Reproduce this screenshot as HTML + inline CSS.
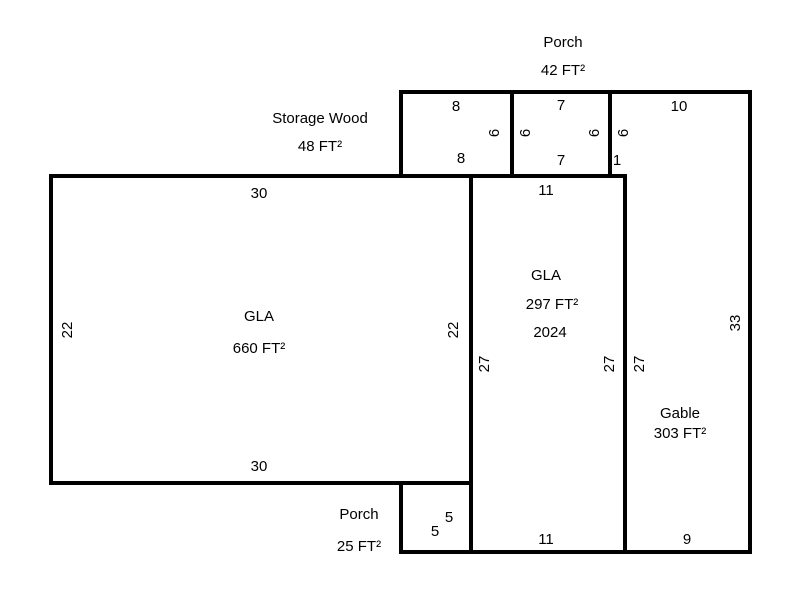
<!DOCTYPE html>
<html><head><style>body{margin:0;background:#fff}svg{display:block}</style></head><body>
<svg width="800" height="600" xmlns="http://www.w3.org/2000/svg" font-family="Liberation Sans, Arial, sans-serif" font-size="15" fill="#000">
<g stroke="#000" stroke-width="4" fill="none" stroke-linecap="square">
<rect x="51" y="176" width="420" height="307"/>
<rect x="471" y="176" width="154" height="376"/>
<polyline points="610,176 610,92 750,92 750,552 625,552"/>
<rect x="401" y="92" width="111" height="84"/>
<rect x="512" y="92" width="98" height="84"/>
<polyline points="471,483 401,483 401,552 471,552"/>
</g>
<g text-anchor="middle">
<text x="563" y="47">Porch</text>
<text x="563" y="75">42 FT²</text>
<text x="320" y="123">Storage Wood</text>
<text x="320" y="151">48 FT²</text>
<text x="456" y="111">8</text>
<text x="461" y="163">8</text>
<text x="561" y="110">7</text>
<text x="561" y="165">7</text>
<text x="617" y="165">1</text>
<text x="679" y="111">10</text>
<text x="546" y="195">11</text>
<text x="259" y="198">30</text>
<text x="259" y="471">30</text>
<text x="259" y="321">GLA</text>
<text x="259" y="353">660 FT²</text>
<text x="546" y="280">GLA</text>
<text x="552" y="309">297 FT²</text>
<text x="550" y="337">2024</text>
<text x="680" y="418">Gable</text>
<text x="680" y="438">303 FT²</text>
<text x="359" y="519">Porch</text>
<text x="359" y="551">25 FT²</text>
<text x="449" y="522">5</text>
<text x="435" y="536">5</text>
<text x="546" y="544">11</text>
<text x="687" y="544">9</text>
<text transform="translate(72,330) rotate(-90)">22</text>
<text transform="translate(458,330) rotate(-90)">22</text>
<text transform="translate(489,364) rotate(-90)">27</text>
<text transform="translate(614,364) rotate(-90)">27</text>
<text transform="translate(644,364) rotate(-90)">27</text>
<text transform="translate(740,323) rotate(-90)">33</text>
<text transform="translate(499,133) rotate(-90)">6</text>
<text transform="translate(530,133) rotate(-90)">6</text>
<text transform="translate(599,133) rotate(-90)">6</text>
<text transform="translate(628,133) rotate(-90)">6</text>
</g>
</svg>
</body></html>
